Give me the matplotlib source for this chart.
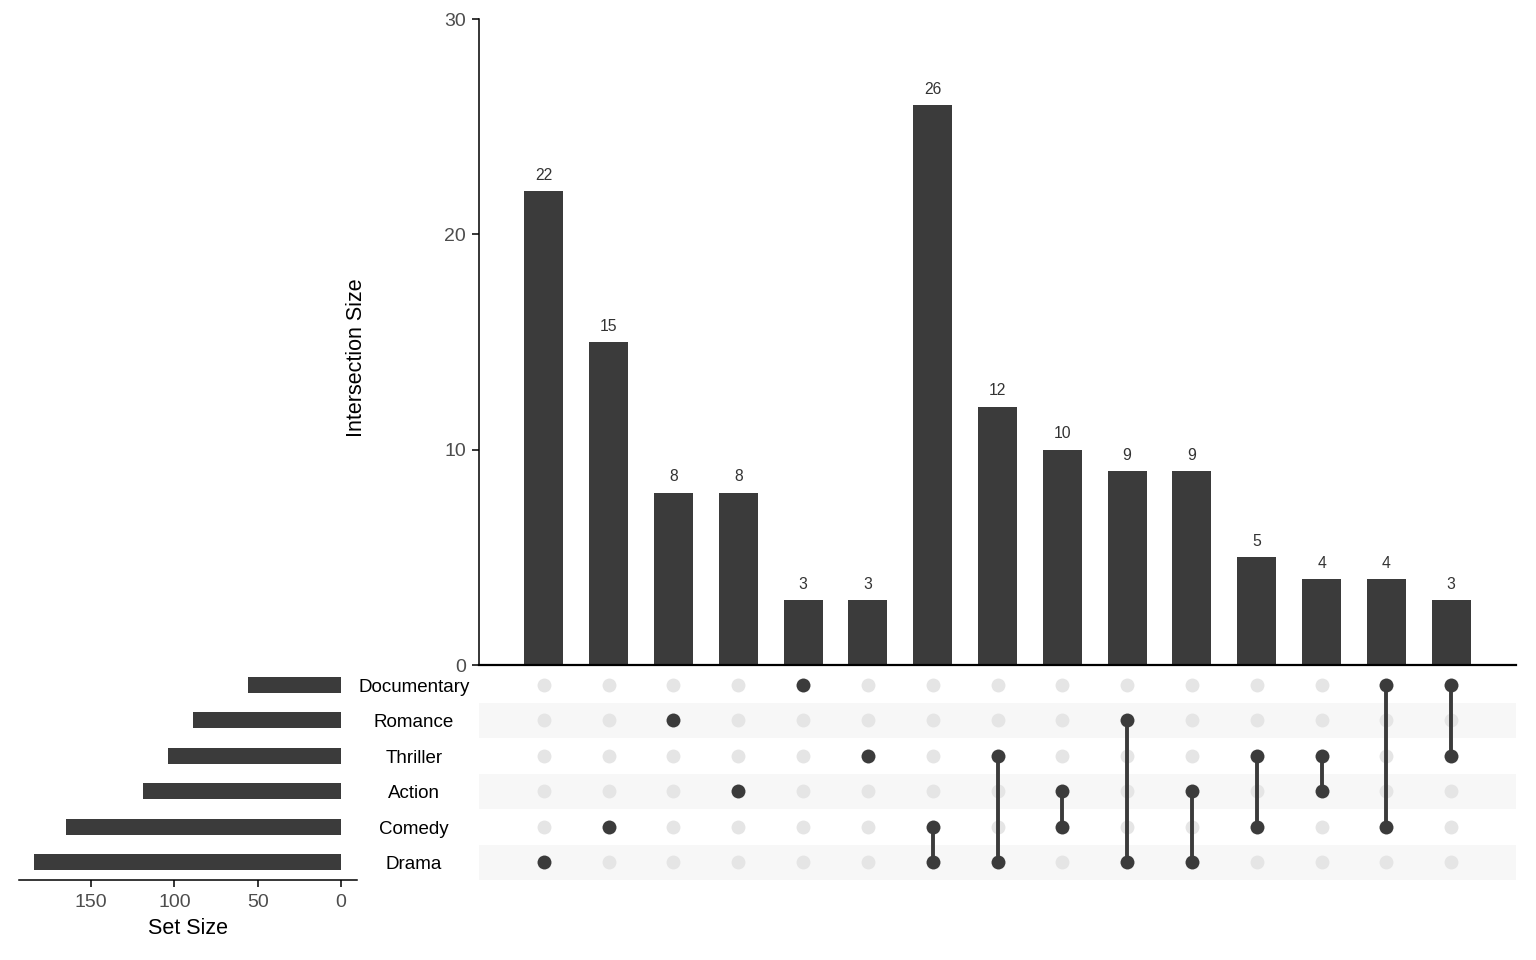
import numpy as np
import matplotlib
matplotlib.use('Agg')
import matplotlib.pyplot as plt
import matplotlib.transforms as mtrans

plt.rcParams['font.family'] = ['Liberation Sans', 'DejaVu Sans']

# sets, bottom row first
set_names = ['Drama', 'Comedy', 'Action', 'Thriller', 'Romance', 'Documentary']
set_sizes = [184, 165, 119, 104, 89, 56]

# intersections, left to right
combos = [
    ['Drama'], ['Comedy'], ['Romance'], ['Action'], ['Documentary'], ['Thriller'],
    ['Comedy', 'Drama'], ['Thriller', 'Drama'], ['Action', 'Comedy'],
    ['Romance', 'Drama'], ['Action', 'Drama'], ['Thriller', 'Comedy'],
    ['Thriller', 'Action'], ['Documentary', 'Comedy'], ['Documentary', 'Thriller'],
]
counts = [22, 15, 8, 8, 3, 3, 26, 12, 10, 9, 9, 5, 4, 4, 3]

BAR = '#3B3B3B'
OFF = '#E5E5E5'
STRIPE = '#F7F7F7'
TICK = '#4D4D4D'

W, H = 1536, 960
fig = plt.figure(figsize=(W / 100, H / 100), dpi=100)

def box(l, t, r, b):
    return [l / W, 1 - b / H, (r - l) / W, (b - t) / H]

ax_bar = fig.add_axes(box(479, 19, 1516, 665))
ax_mat = fig.add_axes(box(479, 667, 1516, 880))
ax_set = fig.add_axes(box(19, 667, 357, 880))

xs = np.arange(1, len(counts) + 1)

# intersection bars
ax_bar.bar(xs, counts, width=0.6, color=BAR)
for x, c in zip(xs, counts):
    ax_bar.annotate(str(c), (x, c), xytext=(0, 6), textcoords='offset points',
                    ha='center', va='bottom', fontsize=11.3, color='#333333')
ax_bar.set_xlim(0, 16)
ax_bar.set_ylim(0, 30)
ax_bar.set_yticks([0, 10, 20, 30])
ax_bar.set_xticks([])
for s in ['top', 'right']:
    ax_bar.spines[s].set_visible(False)
ax_bar.spines['left'].set_linewidth(1.1)
ax_bar.spines['bottom'].set_linewidth(1.6)
ax_bar.tick_params(axis='y', length=5, width=1.1, labelsize=14, labelcolor=TICK, pad=4.5)
fig.text(356 / W, 1 - 358 / H, 'Intersection Size', rotation=90,
         ha='center', va='center', fontsize=15.5)

# matrix
ys = np.arange(len(set_names))
for y in ys:
    if y % 2 == 0:
        ax_mat.axhspan(y - 0.5, y + 0.5, color=STRIPE, lw=0, zorder=0)
gx, gy = np.meshgrid(xs, ys)
ax_mat.scatter(gx.ravel(), gy.ravel(), s=100, color=OFF, zorder=1, linewidths=0)
for x, combo in zip(xs, combos):
    yy = sorted(set_names.index(n) for n in combo)
    if len(yy) > 1:
        ax_mat.plot([x, x], [yy[0], yy[-1]], color=BAR, lw=2.8, zorder=2)
    ax_mat.scatter([x] * len(yy), yy, s=100, color=BAR, zorder=3, linewidths=0)
ax_mat.set_xlim(0, 16)
ax_mat.set_ylim(-0.5, len(set_names) - 0.5)
ax_mat.axis('off')
name_tr = mtrans.offset_copy(
    mtrans.blended_transform_factory(fig.transFigure, ax_mat.transData),
    fig=fig, y=-4.9, units='points')
for y, name in zip(ys, set_names):
    ax_mat.text(414 / W, y, name, transform=name_tr,
                ha='center', va='baseline', fontsize=13.5)

# set sizes
ax_set.barh(ys, set_sizes, height=0.45, color=BAR)
ax_set.set_xlim(193.2, -9.6)
ax_set.set_ylim(-0.5, len(set_names) - 0.5)
ax_set.set_xticks([0, 50, 100, 150])
ax_set.set_yticks([])
for s in ['top', 'right', 'left']:
    ax_set.spines[s].set_visible(False)
ax_set.spines['bottom'].set_linewidth(1.1)
ax_set.tick_params(axis='x', length=5, width=1.1, labelsize=14, labelcolor=TICK, pad=5)
fig.text(188 / W, 1 - 929 / H, 'Set Size', ha='center', va='center', fontsize=15.5)

fig.savefig('out.png', dpi=100)
